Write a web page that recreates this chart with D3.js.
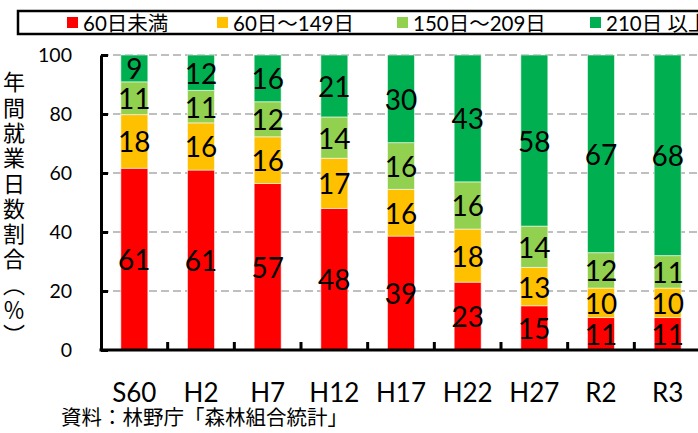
<!DOCTYPE html>
<html lang="ja">
<head>
<meta charset="utf-8">
<title>年間就業日数割合</title>
<script src="https://cdn.jsdelivr.net/npm/d3@7"></script>
<style>
  body { margin: 0; padding: 0; background: #fff; }
  svg { display: block; font-family: Lato, "Noto Sans CJK JP", sans-serif; }
  .grid line { stroke: #bfbfbf; stroke-width: 2; stroke-dasharray: 8,4; }
  .seg { stroke: #fff; stroke-width: 1; stroke-opacity: 0.55; }
</style>
</head>
<body>
<script>
// データ（森林組合統計）
var years = ["S60", "H2", "H7", "H12", "H17", "H22", "H27", "R2", "R3"];
var seriesNames = ["60日未満", "60日～149日", "150日～209日", "210日 以上"];
var lt60     = [61, 61, 57, 48, 39, 23, 15, 11, 11];
var d60to149 = [18, 16, 16, 17, 16, 18, 13, 10, 10];
var d150to209 = [11, 11, 12, 14, 16, 16, 14, 12, 11];
var over210  = [9, 12, 16, 21, 30, 43, 58, 67, 68];
var yTicks = [0, 20, 40, 60, 80, 100];
var colors = ["#ff0000", "#ffc000", "#92d050", "#00b050"];

var width = 698, height = 433;
var svg = d3.select("body").append("svg")
    .attr("width", width)
    .attr("height", height);

var keys = ["a", "b", "c", "d"];
var rows = years.map(function(y, i) {
    return { year: y, a: lt60[i], b: d60to149[i], c: d150to209[i], d: over210[i] };
});

// 100% 積み上げ
var stack = d3.stack().keys(keys).offset(d3.stackOffsetExpand);
var layers = stack(rows);

var x = d3.scaleBand()
    .domain(years)
    .range([101, 701])
    .paddingInner(0.595)
    .paddingOuter(0.2975);

var y = d3.scaleLinear()
    .domain([0, 100])
    .range([350, 55]);

// grid
svg.append("g").attr("class", "grid")
    .selectAll("line")
    .data(yTicks.slice(1))
    .enter().append("line")
    .attr("x1", 101).attr("x2", 701)
    .attr("y1", function(d) { return y(d); })
    .attr("y2", function(d) { return y(d); });

// bars
var g = svg.append("g");
layers.forEach(function(layer, k) {
    g.selectAll(".s" + k)
        .data(layer)
        .enter().append("rect")
        .attr("class", "seg")
        .attr("x", function(d) { return x(d.data.year); })
        .attr("width", x.bandwidth())
        .attr("y", function(d) { return y(d[1] * 100); })
        .attr("height", function(d) { return y(d[0] * 100) - y(d[1] * 100); })
        .attr("fill", colors[k]);

    g.selectAll(".t" + k)
        .data(layer)
        .enter().append("text")
        .attr("x", function(d) { return x(d.data.year) + x.bandwidth() / 2; })
        .attr("y", function(d) { return y((d[0] + d[1]) / 2 * 100); })
        .attr("text-anchor", "middle")
        .attr("dominant-baseline", "central")
        .attr("font-size", 28)
        .attr("fill", "#000")
        .text(function(d) { return d.data[keys[k]]; });
});

// y axis
var yAxis = d3.axisLeft(y)
    .tickValues(yTicks)
    .tickSize(-7)
    .tickSizeOuter(0)
    .tickPadding(29);
var ya = svg.append("g").attr("transform", "translate(101,0)").call(yAxis);
ya.select(".domain").attr("stroke", "#000").attr("stroke-width", 3);
ya.selectAll(".tick line").attr("stroke", "#000").attr("stroke-width", 3);
ya.selectAll("text")
    .attr("font-size", 19.5)
    .attr("fill", "#000")
    .attr("font-family", "Lato, sans-serif");

// x axis
svg.append("line")
    .attr("x1", 99.5).attr("x2", 701)
    .attr("y1", 350).attr("y2", 350)
    .attr("stroke", "#000").attr("stroke-width", 3);
svg.append("g").selectAll("line")
    .data(d3.range(1, years.length))
    .enter().append("line")
    .attr("x1", function(i) { return x.range()[0] + i * x.step(); })
    .attr("x2", function(i) { return x.range()[0] + i * x.step(); })
    .attr("y1", 350).attr("y2", 342)
    .attr("stroke", "#000").attr("stroke-width", 3);
svg.append("g").selectAll("text")
    .data(years)
    .enter().append("text")
    .attr("x", function(d) { return x(d) + x.bandwidth() / 2; })
    .attr("y", 402)
    .attr("text-anchor", "middle")
    .attr("font-size", 26)
    .text(function(d) { return d; });

// y title (縦書き)
svg.append("text")
    .attr("x", 14).attr("y", 71)
    .style("writing-mode", "vertical-rl")
    .style("text-orientation", "upright")
    .style("letter-spacing", "3.3px")
    .attr("font-size", 22)
    .attr("font-family", "'Noto Sans CJK JP', sans-serif")
    .text("年間就業日数割合（％）");

// legend
svg.append("rect")
    .attr("x", 18).attr("y", 11)
    .attr("width", 700).attr("height", 23)
    .attr("fill", "#fff").attr("stroke", "#000").attr("stroke-width", 2.5);
var legX = [67, 217, 397, 590];
var leg = svg.append("g").selectAll("g")
    .data(seriesNames)
    .enter().append("g")
    .attr("transform", function(d, i) { return "translate(" + legX[i] + ",17)"; });
leg.append("rect")
    .attr("width", 11).attr("height", 11)
    .attr("fill", function(d, i) { return colors[i]; });
leg.append("text")
    .attr("x", 16).attr("y", 14)
    .attr("font-size", 20.5)
    .text(function(d) { return d; });

// source
svg.append("text")
    .attr("x", 61).attr("y", 425)
    .attr("font-size", 20.5)
    .attr("font-family", "'Noto Sans CJK JP', sans-serif")
    .text("資料：林野庁「森林組合統計」");
</script>
</body>
</html>
